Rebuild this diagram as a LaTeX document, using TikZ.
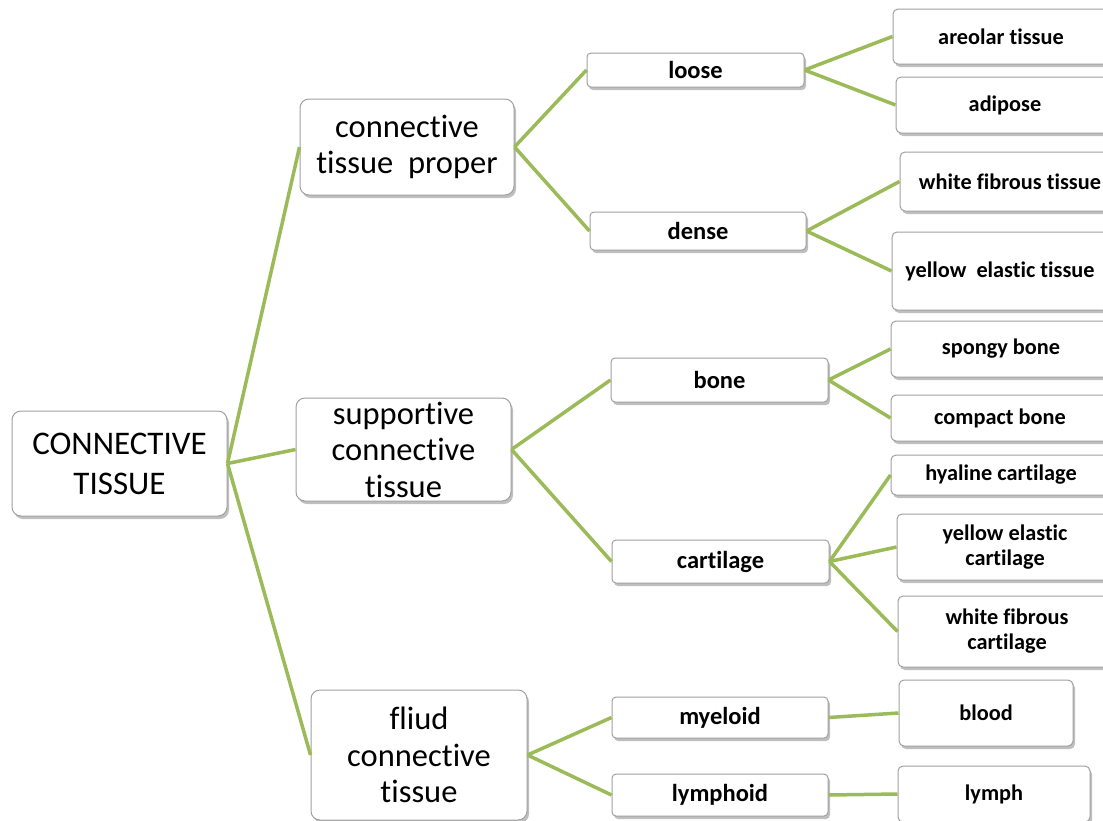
\documentclass[tikz,border=0pt]{standalone}
\usepackage{fontspec}
\setmainfont{Carlito}[Ligatures=NoCommon]
\usetikzlibrary{shadows}
\definecolor{linkgreen}{RGB}{155,187,89}
\definecolor{boxborder}{RGB}{160,160,160}
\tikzset{
  basebox/.style={draw=boxborder, line width=1pt, fill=white, inner sep=0pt, align=center,
    drop shadow={shadow xshift=2pt, shadow yshift=-3pt, fill=black, opacity=0.25}},
  rootbox/.style={basebox, rounded corners=9pt, font=\fontsize{33}{40}\selectfont},
  midbox/.style={basebox, rounded corners=9pt, font=\fontsize{32.5}{36.5}\selectfont},
  smallbox/.style={basebox, rounded corners=4pt, font=\bfseries\fontsize{24.5}{26}\selectfont},
  leafbox/.style={basebox, rounded corners=5pt, font=\bfseries\fontsize{22.3}{25}\selectfont},
  link/.style={draw=linkgreen, line width=3.5pt}
}
\begin{document}
\begin{tikzpicture}[x=1pt,y=-1pt]
\useasboundingbox (0,0) rectangle (1103,820);
% root
\node[rootbox, minimum width=215pt, minimum height=105pt] (root) at (119.5,463.5) {CONNECTIVE\\TISSUE};
% middle
\node[midbox, minimum width=214pt, minimum height=96pt] (proper) at (407,147) {connective\\tissue~ proper};
\node[midbox, minimum width=215pt, minimum height=103pt] (supp) at (403.5,449.5) {supportive\\connective\\tissue};
\node[midbox, minimum width=216pt, minimum height=130pt] (fluid) at (419,755) {fliud\\connective\\tissue};
% small
\node[smallbox, minimum width=217pt, minimum height=34pt] (loose) at (695.5,70) {loose};
\node[smallbox, minimum width=216pt, minimum height=38pt] (dense) at (698,231) {dense};
\node[smallbox, minimum width=217pt, minimum height=44pt] (bone) at (719.5,380) {bone};
\node[smallbox, minimum width=217pt, minimum height=43pt] (cart) at (720.5,561.5) {cartilage};
\node[smallbox, minimum width=216pt, minimum height=41pt] (myel) at (720,717.5) {myeloid};
\node[smallbox, minimum width=216pt, minimum height=42pt] (lymphd) at (720,795) {lymphoid};
% leaves
\node[leafbox, minimum width=216pt, minimum height=55pt] (areolar) at (1001,36.5) {areolar tissue};
\node[leafbox, minimum width=218pt, minimum height=56pt] (adipose) at (1005,105) {adipose};
\node[leafbox, minimum width=220pt, minimum height=59pt] (wft) at (1010,181.5) {white fibrous tissue};
\node[leafbox, minimum width=216pt, minimum height=78pt] (yet) at (1000,271) {yellow~ elastic tissue};
\node[leafbox, minimum width=220pt, minimum height=56pt] (spongy) at (1001,349) {spongy bone};
\node[leafbox, minimum width=218pt, minimum height=46pt] (compact) at (1000,418) {compact bone};
\node[leafbox, minimum width=220pt, minimum height=40pt] (hyaline) at (1001,475) {hyaline cartilage};
\node[leafbox, minimum width=216pt, minimum height=66pt] (yec) at (1005,547) {yellow elastic\\cartilage};
\node[leafbox, minimum width=218pt, minimum height=71pt] (wfc) at (1007,631.5) {white fibrous\\cartilage};
\node[leafbox, minimum width=174pt, minimum height=66pt] (blood) at (986,713) {blood};
\node[leafbox, minimum width=192pt, minimum height=56pt] (lymph) at (994,794) {lymph};
% links
\draw[link] (root.east) -- (proper.west);
\draw[link] (root.east) -- (supp.west);
\draw[link] (root.east) -- (fluid.west);
\draw[link] (proper.east) -- (loose.west);
\draw[link] (proper.east) -- (dense.west);
\draw[link] (supp.east) -- (bone.west);
\draw[link] (supp.east) -- (cart.west);
\draw[link] (fluid.east) -- (myel.west);
\draw[link] (fluid.east) -- (lymphd.west);
\draw[link] (loose.east) -- (areolar.west);
\draw[link] (loose.east) -- (adipose.west);
\draw[link] (dense.east) -- (wft.west);
\draw[link] (dense.east) -- (yet.west);
\draw[link] (bone.east) -- (spongy.west);
\draw[link] (bone.east) -- (compact.west);
\draw[link] (cart.east) -- (hyaline.west);
\draw[link] (cart.east) -- (yec.west);
\draw[link] (cart.east) -- (wfc.west);
\draw[link] (myel.east) -- (blood.west);
\draw[link] (lymphd.east) -- (lymph.west);
\end{tikzpicture}
\end{document}
